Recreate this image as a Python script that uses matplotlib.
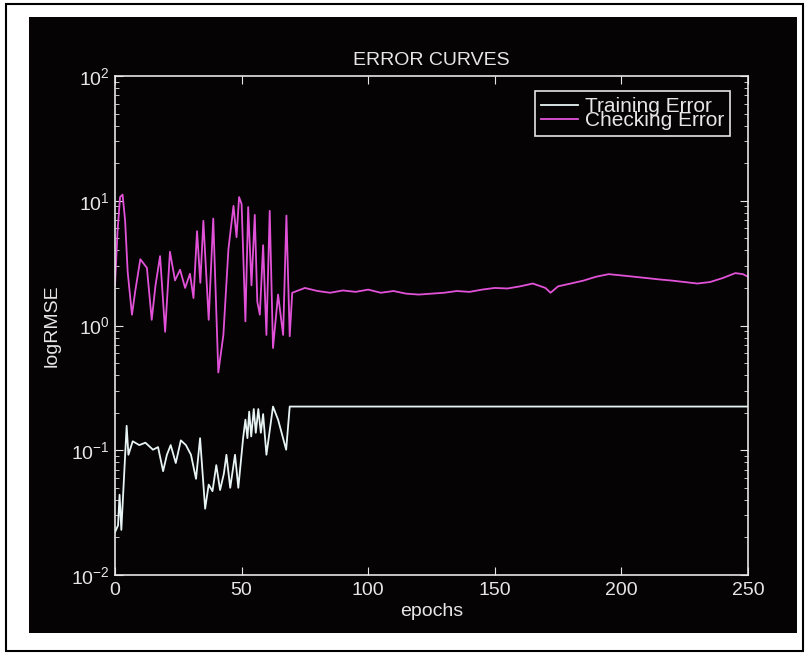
import matplotlib
matplotlib.use("Agg")
import matplotlib.pyplot as plt
from matplotlib.patches import Rectangle

# checking error (magenta)
check_epochs = [0, 1, 2, 3, 4, 5, 6.7, 8, 10, 12.6, 14.5, 16, 17.8, 19.8, 21.7,
                23.7, 25.7, 27.7, 29.6, 31, 32.4, 33.7, 34.9, 37, 38.8, 40.8,
                42.8, 44.8, 46.8, 48, 49, 50, 51.5, 52.6, 53.9, 55.2, 56.2, 57.2,
                58.5, 59.8, 61.1, 62.4, 64.4, 66.4, 67.7, 69, 70,
                75, 80, 85, 90, 95, 100, 105, 110, 115, 120, 125, 130, 135,
                140, 145, 150, 155, 160, 165, 170, 172, 175, 180, 185, 190,
                195, 200, 205, 210, 215, 220, 225, 230, 235, 240, 245, 248, 250]
check_err = [2.1, 5.7, 10.7, 11.2, 6.9, 2.7, 1.22, 1.89, 3.4, 2.9, 1.11, 2.1, 3.6,
             0.89, 3.9, 2.3, 2.8, 2.0, 2.6, 1.66, 5.7, 2.2, 6.9, 1.11, 7.2, 0.42,
             0.84, 4.1, 9.1, 5.1, 10.7, 9.4, 1.08, 8.9, 2.1, 7.7, 1.55, 1.22,
             4.4, 0.84, 8.3, 0.66, 1.77, 0.84, 7.6, 0.82, 1.83,
             2.0, 1.89, 1.83, 1.91, 1.86, 1.94, 1.83, 1.89, 1.8, 1.77, 1.8,
             1.83, 1.89, 1.86, 1.94, 2.0, 1.98, 2.06, 2.17, 2.0, 1.83, 2.06,
             2.17, 2.29, 2.46, 2.58, 2.52, 2.46, 2.4, 2.34, 2.29, 2.23, 2.17,
             2.23, 2.4, 2.63, 2.58, 2.46]

# training error (white)
train_epochs = [0, 1.2, 1.8, 2.5, 4.6, 5.3, 7, 9.6, 12, 15, 17, 19, 20.5, 22,
                24, 26, 28, 30, 32, 33.6, 35.6, 37, 38.5, 40, 41.5, 43, 44,
                45.5, 47.4, 48.7, 50.6, 51.5, 52.3, 53, 53.8, 54.8, 55.6,
                56.6, 57.6, 58.5, 59.8, 62.4, 64.4, 67.6, 69, 70, 250]
train_err = [0.022, 0.025, 0.044, 0.023, 0.157, 0.092, 0.118, 0.11, 0.115, 0.101,
             0.106, 0.068, 0.092, 0.11, 0.079, 0.12, 0.11, 0.092, 0.059, 0.125,
             0.034, 0.053, 0.047, 0.076, 0.048, 0.065, 0.092, 0.05, 0.092, 0.05,
             0.125, 0.176, 0.125, 0.204, 0.129, 0.214, 0.138, 0.214, 0.138, 0.195,
             0.092, 0.224, 0.176, 0.101, 0.224, 0.224, 0.224]

x_ticks = [0, 50, 100, 150, 200, 250]

font = "Liberation Sans"
plt.rcParams["mathtext.fontset"] = "custom"
plt.rcParams["mathtext.rm"] = font
plt.rcParams["mathtext.it"] = font + ":italic"

W, H = 806, 655
fig = plt.figure(figsize=(W / 100, H / 100), dpi=100, facecolor="white")
fig.patches.append(Rectangle((6 / W, 1 - 651 / H), 797 / W, 647 / H,
                             transform=fig.transFigure, facecolor="white",
                             edgecolor="black", lw=1.5, zorder=-10))
fig.patches.append(Rectangle((29 / W, 1 - 633 / H), 768 / W, 616 / H,
                             transform=fig.transFigure, facecolor="#050303",
                             edgecolor="none", zorder=-9))

fg = "#e6e6e6"
ax = fig.add_axes([115 / W, 1 - 575 / H, 633 / W, 499 / H])
ax.set_facecolor("#050303")
ax.semilogy(train_epochs, train_err, color="#e8f4f4", lw=1.3, label="Training Error")
ax.semilogy(check_epochs, check_err, color="#e252d8", lw=1.3, label="Checking Error")

ax.set_xlim(0, 250)
ax.set_ylim(1e-2, 1e2)
ax.set_xticks(x_ticks)
for s in ax.spines.values():
    s.set_color(fg)
    s.set_linewidth(1.2)
ax.tick_params(which="both", direction="in", top=True, right=True, colors=fg,
               labelsize=14)
ax.tick_params(which="major", length=6)
ax.tick_params(which="minor", length=3)
ax.tick_params(axis="x", pad=5)
for lab in ax.get_xticklabels() + ax.get_yticklabels():
    lab.set_fontfamily(font)

ax.set_title("ERROR CURVES", color=fg, fontsize=14, family=font, pad=8)
ax.set_xlabel("epochs", color=fg, fontsize=14, family=font, labelpad=3)
ax.set_ylabel("logRMSE", color=fg, fontsize=14, family=font, labelpad=8)

leg = ax.legend(loc="upper right", bbox_to_anchor=(0.9716, 0.970),
                borderaxespad=0, facecolor="#050303", edgecolor=fg,
                framealpha=1, fancybox=False, labelspacing=-0.25,
                handlelength=1.8, handletextpad=0.3, borderpad=0.3,
                prop={"family": font, "size": 15})
leg.get_frame().set_linewidth(1.2)
for t in leg.get_texts():
    t.set_color(fg)

fig.savefig("out.png", dpi=100, facecolor="white")
